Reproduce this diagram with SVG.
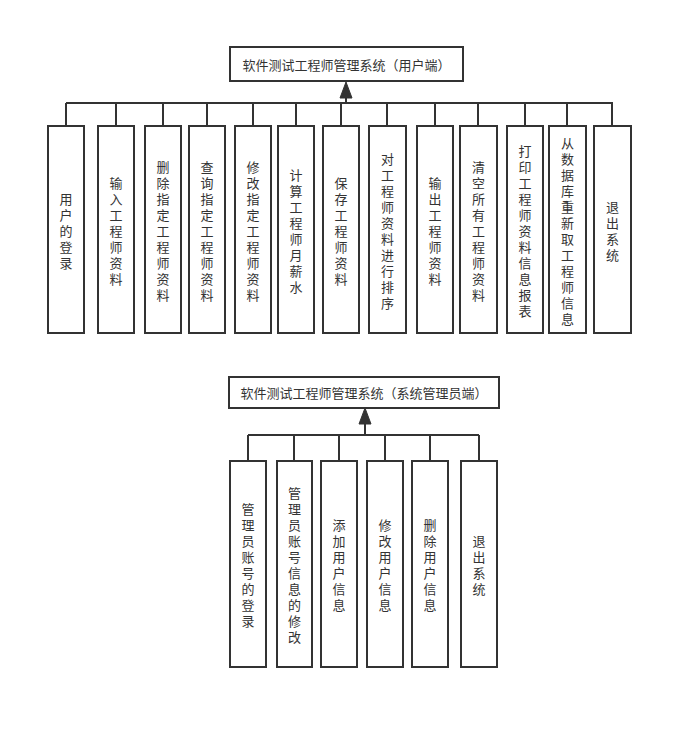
<svg xmlns="http://www.w3.org/2000/svg" width="693" height="730" viewBox="0 0 693 730">
<style>
.box{fill:#fff;stroke:#333;stroke-width:2}
.ln{fill:none;stroke:#333;stroke-width:2}
.t{font-family:"Noto Sans CJK SC","Noto Sans",sans-serif;font-size:13px;fill:#333;text-anchor:middle;dominant-baseline:central}
</style>
<defs>
<marker id="arr" markerUnits="userSpaceOnUse" markerWidth="14" markerHeight="18" viewBox="0 0 14 18" refX="7" refY="0" orient="auto-start-reverse">
<path d="M0,17 L7,0 L14,17 Z" fill="#333"/>
</marker>
</defs>
<rect width="693" height="730" fill="#fff"/>
<g id="connectors">
<path class="ln" d="M66,103 H613 M66,103 V126 M116,103 V126 M163,103 V126 M207,103 V126 M253,103 V126 M296,103 V126 M341,103 V126 M387,103 V126 M435,103 V126 M478,103 V126 M525,103 V126 M567,103 V126 M612,103 V126"/>
<line class="ln" x1="346" y1="103" x2="346" y2="98"/>
<path d="M340,98 L346,82 L352,98 Z" fill="#333" stroke="#333" stroke-width="1"/>
<path class="ln" d="M248,435 H479 M248,435 V461 M294,435 V461 M339,435 V461 M385,435 V461 M430,435 V461 M479,435 V461"/>
<line class="ln" x1="365" y1="435" x2="365" y2="424"/>
<path d="M359,424 L365,408 L371,424 Z" fill="#333" stroke="#333" stroke-width="1"/>
</g>
<g id="title1"><rect class="box" x="230" y="47" width="233" height="34"/><text class="t" x="346.5" y="64">软件测试工程师管理系统（用户端）</text></g>
<g id="title2"><rect class="box" x="229" y="377" width="270" height="31"/><text class="t" x="364" y="392.5">软件测试工程师管理系统（系统管理员端）</text></g>

<g id="u1"><rect class="box" x="48" y="126" width="36" height="207"/><text class="t" x="66" y="197.5"><tspan x="66" dy="0">用</tspan><tspan x="66" dy="16">户</tspan><tspan x="66" dy="16">的</tspan><tspan x="66" dy="16">登</tspan><tspan x="66" dy="16">录</tspan></text></g>
<g id="u2"><rect class="box" x="98" y="126" width="36" height="207"/><text class="t" x="116" y="181.5"><tspan x="116" dy="0">输</tspan><tspan x="116" dy="16">入</tspan><tspan x="116" dy="16">工</tspan><tspan x="116" dy="16">程</tspan><tspan x="116" dy="16">师</tspan><tspan x="116" dy="16">资</tspan><tspan x="116" dy="16">料</tspan></text></g>
<g id="u3"><rect class="box" x="145" y="126" width="36" height="207"/><text class="t" x="163" y="165.5"><tspan x="163" dy="0">删</tspan><tspan x="163" dy="16">除</tspan><tspan x="163" dy="16">指</tspan><tspan x="163" dy="16">定</tspan><tspan x="163" dy="16">工</tspan><tspan x="163" dy="16">程</tspan><tspan x="163" dy="16">师</tspan><tspan x="163" dy="16">资</tspan><tspan x="163" dy="16">料</tspan></text></g>
<g id="u4"><rect class="box" x="189" y="126" width="36" height="207"/><text class="t" x="207" y="165.5"><tspan x="207" dy="0">查</tspan><tspan x="207" dy="16">询</tspan><tspan x="207" dy="16">指</tspan><tspan x="207" dy="16">定</tspan><tspan x="207" dy="16">工</tspan><tspan x="207" dy="16">程</tspan><tspan x="207" dy="16">师</tspan><tspan x="207" dy="16">资</tspan><tspan x="207" dy="16">料</tspan></text></g>
<g id="u5"><rect class="box" x="235" y="126" width="36" height="207"/><text class="t" x="253" y="165.5"><tspan x="253" dy="0">修</tspan><tspan x="253" dy="16">改</tspan><tspan x="253" dy="16">指</tspan><tspan x="253" dy="16">定</tspan><tspan x="253" dy="16">工</tspan><tspan x="253" dy="16">程</tspan><tspan x="253" dy="16">师</tspan><tspan x="253" dy="16">资</tspan><tspan x="253" dy="16">料</tspan></text></g>
<g id="u6"><rect class="box" x="278" y="126" width="36" height="207"/><text class="t" x="296" y="173.5"><tspan x="296" dy="0">计</tspan><tspan x="296" dy="16">算</tspan><tspan x="296" dy="16">工</tspan><tspan x="296" dy="16">程</tspan><tspan x="296" dy="16">师</tspan><tspan x="296" dy="16">月</tspan><tspan x="296" dy="16">薪</tspan><tspan x="296" dy="16">水</tspan></text></g>
<g id="u7"><rect class="box" x="323" y="126" width="36" height="207"/><text class="t" x="341" y="181.5"><tspan x="341" dy="0">保</tspan><tspan x="341" dy="16">存</tspan><tspan x="341" dy="16">工</tspan><tspan x="341" dy="16">程</tspan><tspan x="341" dy="16">师</tspan><tspan x="341" dy="16">资</tspan><tspan x="341" dy="16">料</tspan></text></g>
<g id="u8"><rect class="box" x="369" y="126" width="37" height="207"/><text class="t" x="387.5" y="157.5"><tspan x="387.5" dy="0">对</tspan><tspan x="387.5" dy="16">工</tspan><tspan x="387.5" dy="16">程</tspan><tspan x="387.5" dy="16">师</tspan><tspan x="387.5" dy="16">资</tspan><tspan x="387.5" dy="16">料</tspan><tspan x="387.5" dy="16">进</tspan><tspan x="387.5" dy="16">行</tspan><tspan x="387.5" dy="16">排</tspan><tspan x="387.5" dy="16">序</tspan></text></g>
<g id="u9"><rect class="box" x="417" y="126" width="36" height="207"/><text class="t" x="435" y="181.5"><tspan x="435" dy="0">输</tspan><tspan x="435" dy="16">出</tspan><tspan x="435" dy="16">工</tspan><tspan x="435" dy="16">程</tspan><tspan x="435" dy="16">师</tspan><tspan x="435" dy="16">资</tspan><tspan x="435" dy="16">料</tspan></text></g>
<g id="u10"><rect class="box" x="460" y="126" width="37" height="207"/><text class="t" x="478.5" y="165.5"><tspan x="478.5" dy="0">清</tspan><tspan x="478.5" dy="16">空</tspan><tspan x="478.5" dy="16">所</tspan><tspan x="478.5" dy="16">有</tspan><tspan x="478.5" dy="16">工</tspan><tspan x="478.5" dy="16">程</tspan><tspan x="478.5" dy="16">师</tspan><tspan x="478.5" dy="16">资</tspan><tspan x="478.5" dy="16">料</tspan></text></g>
<g id="u11"><rect class="box" x="507" y="126" width="36" height="207"/><text class="t" x="525" y="149.5"><tspan x="525" dy="0">打</tspan><tspan x="525" dy="16">印</tspan><tspan x="525" dy="16">工</tspan><tspan x="525" dy="16">程</tspan><tspan x="525" dy="16">师</tspan><tspan x="525" dy="16">资</tspan><tspan x="525" dy="16">料</tspan><tspan x="525" dy="16">信</tspan><tspan x="525" dy="16">息</tspan><tspan x="525" dy="16">报</tspan><tspan x="525" dy="16">表</tspan></text></g>
<g id="u12"><rect class="box" x="549" y="126" width="37" height="207"/><text class="t" x="567.5" y="141.5"><tspan x="567.5" dy="0">从</tspan><tspan x="567.5" dy="16">数</tspan><tspan x="567.5" dy="16">据</tspan><tspan x="567.5" dy="16">库</tspan><tspan x="567.5" dy="16">重</tspan><tspan x="567.5" dy="16">新</tspan><tspan x="567.5" dy="16">取</tspan><tspan x="567.5" dy="16">工</tspan><tspan x="567.5" dy="16">程</tspan><tspan x="567.5" dy="16">师</tspan><tspan x="567.5" dy="16">信</tspan><tspan x="567.5" dy="16">息</tspan></text></g>
<g id="u13"><rect class="box" x="594" y="126" width="37" height="207"/><text class="t" x="612.5" y="205.5"><tspan x="612.5" dy="0">退</tspan><tspan x="612.5" dy="16">出</tspan><tspan x="612.5" dy="16">系</tspan><tspan x="612.5" dy="16">统</tspan></text></g>

<g id="a1"><rect class="box" x="230" y="461" width="36" height="206"/><text class="t" x="248" y="508"><tspan x="248" dy="0">管</tspan><tspan x="248" dy="16">理</tspan><tspan x="248" dy="16">员</tspan><tspan x="248" dy="16">账</tspan><tspan x="248" dy="16">号</tspan><tspan x="248" dy="16">的</tspan><tspan x="248" dy="16">登</tspan><tspan x="248" dy="16">录</tspan></text></g>
<g id="a2"><rect class="box" x="277" y="461" width="35" height="206"/><text class="t" x="294.5" y="492"><tspan x="294.5" dy="0">管</tspan><tspan x="294.5" dy="16">理</tspan><tspan x="294.5" dy="16">员</tspan><tspan x="294.5" dy="16">账</tspan><tspan x="294.5" dy="16">号</tspan><tspan x="294.5" dy="16">信</tspan><tspan x="294.5" dy="16">息</tspan><tspan x="294.5" dy="16">的</tspan><tspan x="294.5" dy="16">修</tspan><tspan x="294.5" dy="16">改</tspan></text></g>
<g id="a3"><rect class="box" x="321" y="461" width="36" height="206"/><text class="t" x="339" y="524"><tspan x="339" dy="0">添</tspan><tspan x="339" dy="16">加</tspan><tspan x="339" dy="16">用</tspan><tspan x="339" dy="16">户</tspan><tspan x="339" dy="16">信</tspan><tspan x="339" dy="16">息</tspan></text></g>
<g id="a4"><rect class="box" x="367" y="461" width="36" height="206"/><text class="t" x="385" y="524"><tspan x="385" dy="0">修</tspan><tspan x="385" dy="16">改</tspan><tspan x="385" dy="16">用</tspan><tspan x="385" dy="16">户</tspan><tspan x="385" dy="16">信</tspan><tspan x="385" dy="16">息</tspan></text></g>
<g id="a5"><rect class="box" x="412" y="461" width="36" height="206"/><text class="t" x="430" y="524"><tspan x="430" dy="0">删</tspan><tspan x="430" dy="16">除</tspan><tspan x="430" dy="16">用</tspan><tspan x="430" dy="16">户</tspan><tspan x="430" dy="16">信</tspan><tspan x="430" dy="16">息</tspan></text></g>
<g id="a6"><rect class="box" x="461" y="461" width="36" height="206"/><text class="t" x="479" y="540"><tspan x="479" dy="0">退</tspan><tspan x="479" dy="16">出</tspan><tspan x="479" dy="16">系</tspan><tspan x="479" dy="16">统</tspan></text></g>
</svg>
